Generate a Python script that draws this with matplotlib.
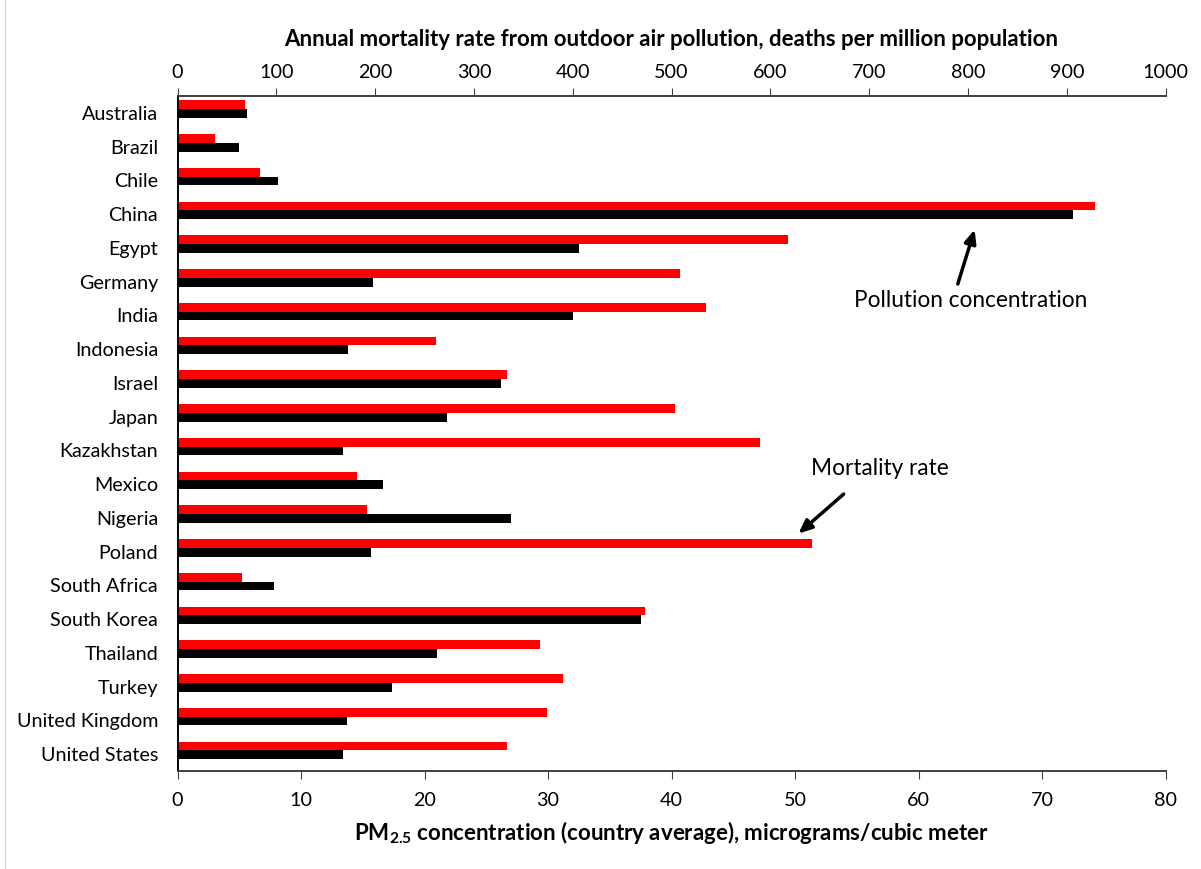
import matplotlib
matplotlib.use("Agg")
import matplotlib.pyplot as plt
import numpy as np

plt.rcParams['font.family'] = ['Lato', 'DejaVu Sans']
plt.rcParams['mathtext.fontset'] = 'custom'
plt.rcParams['mathtext.rm'] = 'Lato'
plt.rcParams['mathtext.bf'] = 'Lato:bold'

# data
countries = ["Australia", "Brazil", "Chile", "China", "Egypt", "Germany", "India",
             "Indonesia", "Israel", "Japan", "Kazakhstan", "Mexico", "Nigeria",
             "Poland", "South Africa", "South Korea", "Thailand", "Turkey",
             "United Kingdom", "United States"]
# PM2.5 concentration, micrograms/cubic meter (black, bottom axis)
pm25 = [5.6, 5.0, 8.1, 72.5, 32.5, 15.8, 32.0, 13.8, 26.2, 21.8, 13.4, 16.6,
        27.0, 15.7, 7.8, 37.5, 21.0, 17.4, 13.7, 13.4]
# mortality, deaths per million (red, top axis)
mortality = [68, 38, 83, 928, 618, 509, 535, 262, 333, 503, 589, 182, 192,
             642, 65, 473, 367, 390, 374, 333]

bottom_ticks = list(range(0, 81, 10))
top_ticks = list(range(0, 1001, 100))

fig = plt.figure(figsize=(12.01, 8.69), dpi=100)
ax = fig.add_axes([0.1478, 0.1128, 0.8228, 0.7767])
ax2 = ax.twiny()

y = np.arange(len(countries))
h = 0.26
ax.barh(y + 0.02, pm25, height=h, color="black", zorder=2)
ax2.barh(y - 0.24, mortality, height=h, color="#ff0000", zorder=2)

ax.set_ylim(len(countries) - 0.5, -0.5)
ax.set_yticks(y)
ax.set_yticklabels(countries, fontsize=14.2)
ax.tick_params(axis="y", length=0, pad=14)

ax.set_xlim(0, 80)
ax.set_xticks(bottom_ticks)
ax.tick_params(axis="x", labelsize=14.2, length=6, color="#404040", pad=9)
ax.set_xlabel(r"PM$_\mathbf{2.5}$ concentration (country average), micrograms/cubic meter",
              fontsize=16, fontweight="bold", labelpad=7)

ax2.set_xlim(0, 1000)
ax2.set_xticks(top_ticks)
ax2.tick_params(axis="x", labelsize=14.2, length=6, color="#404040", pad=5)
ax2.set_xlabel("Annual mortality rate from outdoor air pollution, deaths per million population",
               fontsize=16, fontweight="bold", labelpad=13)

for a in (ax, ax2):
    a.spines["right"].set_visible(False)
    a.spines["left"].set_color("black")
    a.spines["top"].set_color("#404040")
    a.spines["bottom"].set_color("#404040")
    a.spines["left"].set_linewidth(1.2)
    a.spines["top"].set_linewidth(1.2)
    a.spines["bottom"].set_linewidth(1.2)

ax2.annotate("", xy=(64.6, 3.38), xytext=(63.1, 5.15), xycoords=ax.transData,
             arrowprops=dict(arrowstyle="-|>,head_length=0.8,head_width=0.35",
                             color="black", lw=2.5))
ax2.text(64.2, 5.57, "Pollution concentration", transform=ax.transData,
         fontsize=16.3, ha="center", va="center")

ax2.annotate("", xy=(50.1, 12.52), xytext=(54.1, 11.24), xycoords=ax.transData,
             arrowprops=dict(arrowstyle="-|>,head_length=0.8,head_width=0.35",
                             color="black", lw=2.5))
ax2.text(56.9, 10.54, "Mortality rate", transform=ax.transData,
         fontsize=16.3, ha="center", va="center")

# light chart border on the left edge
fig.add_artist(plt.Line2D([5 / 1201, 5 / 1201], [0.0, 1.0], color="#d9d9d9", lw=1))

fig.savefig("out.png", dpi=100, facecolor="white")
